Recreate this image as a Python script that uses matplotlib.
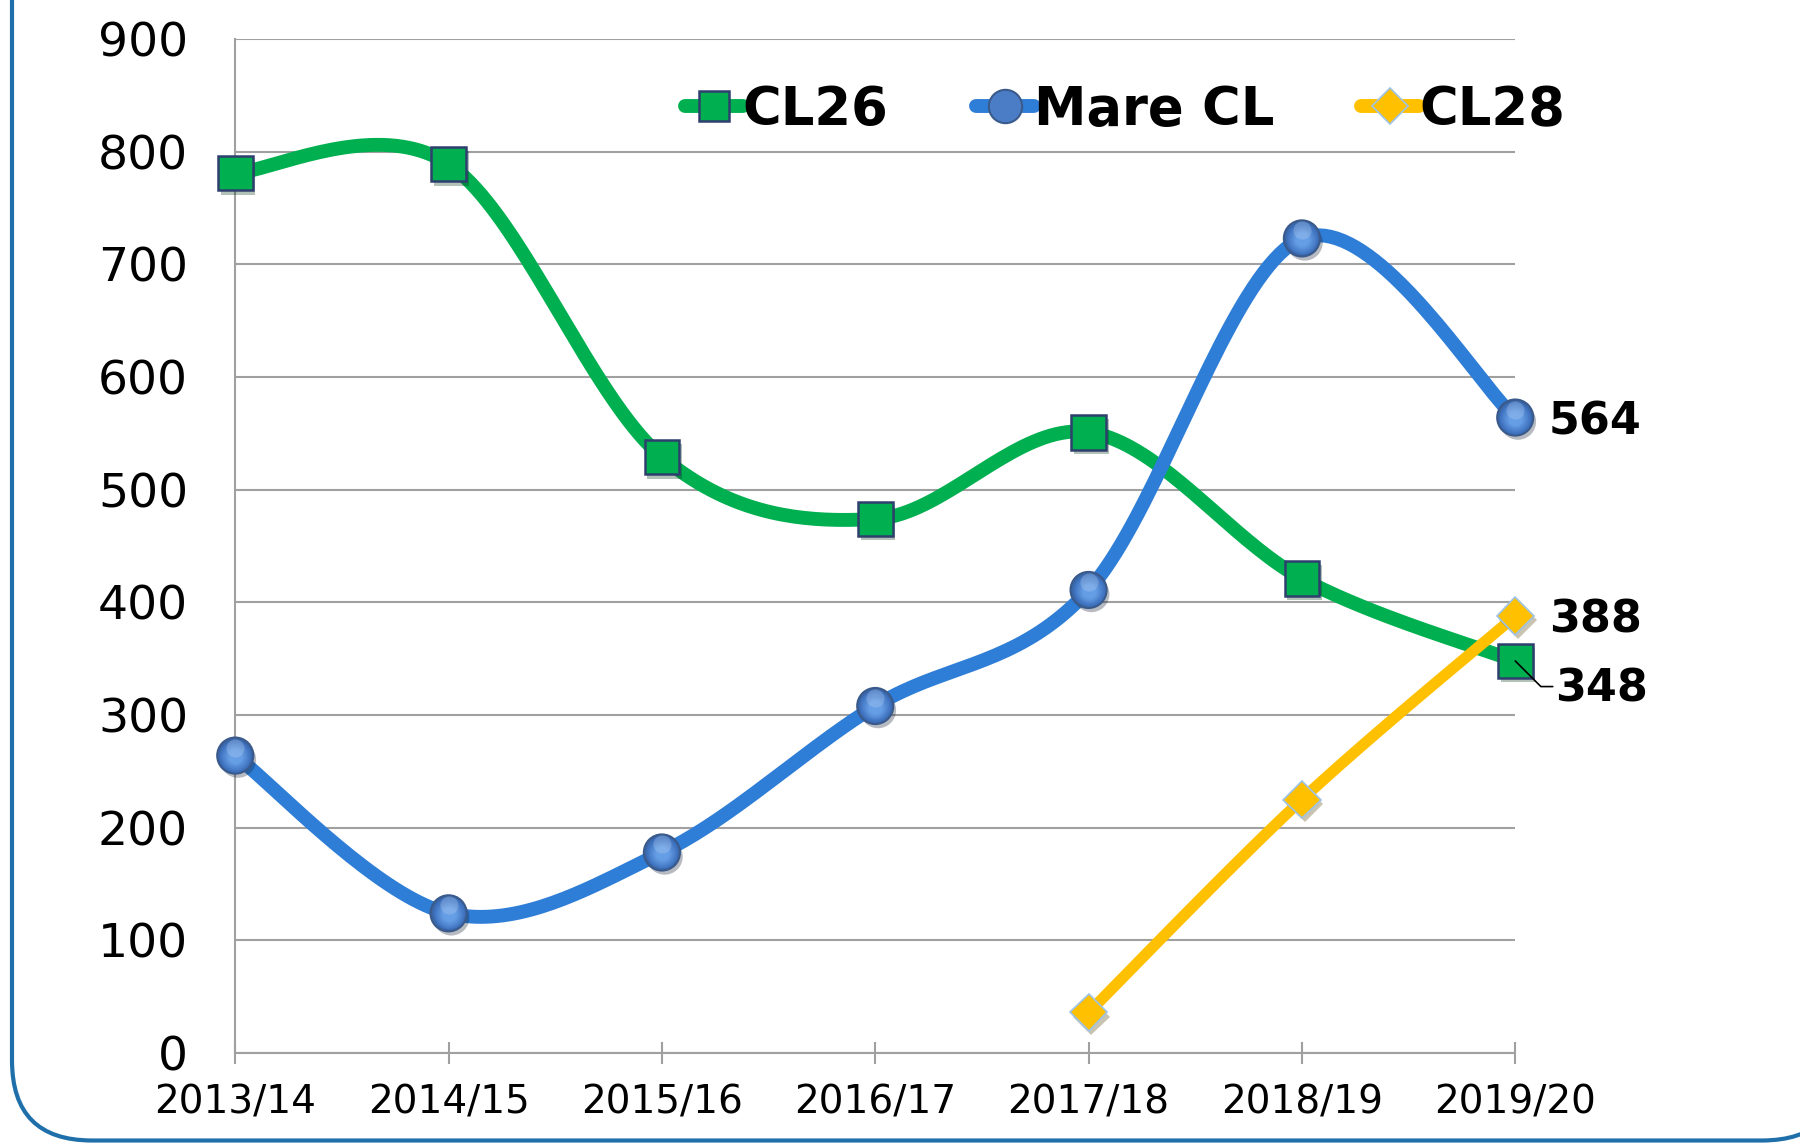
import matplotlib
matplotlib.use("Agg")
import matplotlib.pyplot as plt
import matplotlib.patheffects as pe
import matplotlib.transforms as mtransforms
from matplotlib.lines import Line2D
from matplotlib.patches import FancyBboxPatch
import numpy as np

# ------------------------------------------------------------
# Data
# ------------------------------------------------------------
seasons = ["2013/14", "2014/15", "2015/16", "2016/17", "2017/18", "2018/19", "2019/20"]
cl26 = [781, 789, 529, 474, 551, 421, 348]
mare_cl = [264, 124, 178, 308, 411, 723, 564]
cl28_seasons = ["2017/18", "2018/19", "2019/20"]
cl28 = [36, 225, 388]

GREEN = "#00B050"
BLUE = "#2E7DD6"
YELLOW = "#FFC000"


def smooth(xs, ys, n=40):
    """Bezier smoothing through every point (spreadsheet-style smoothed line)."""
    pts = np.column_stack([xs, ys]).astype(float)
    ext = np.vstack([pts[0], pts, pts[-1]])
    t = np.linspace(0, 1, n)[:, None]
    out = []
    for i in range(len(pts) - 1):
        p0, p1, p2, p3 = ext[i], ext[i + 1], ext[i + 2], ext[i + 3]
        c1 = p1 + (p2 - p0) / 6
        c2 = p2 - (p3 - p1) / 6
        seg = ((1 - t) ** 3) * p1 + 3 * (1 - t) ** 2 * t * c1 + 3 * (1 - t) * t ** 2 * c2 + t ** 3 * p2
        out.append(seg if i == 0 else seg[1:])
    return np.vstack(out)


fig = plt.figure(figsize=(18, 11.43), dpi=100)
ax = fig.add_axes([0.1307, 0.0787, 0.7111, 0.8872])

x = np.arange(len(seasons))
x28 = np.array([seasons.index(s) for s in cl28_seasons])

shadow = [pe.SimplePatchShadow(offset=(2, -3), alpha=0.3), pe.Normal()]

# CL26
c = smooth(x, cl26)
ax.plot(c[:, 0], c[:, 1], color=GREEN, lw=10, solid_capstyle="round", zorder=3)
ax.plot(x, cl26, ls="none", marker="s", ms=25, mfc=GREEN, mec="#2E3F6E", mew=1.8,
        zorder=4, path_effects=shadow, clip_on=False)

# Mare CL
c = smooth(x, mare_cl)
ax.plot(c[:, 0], c[:, 1], color=BLUE, lw=10, solid_capstyle="round", zorder=5)
ax.plot(x, mare_cl, ls="none", marker="o", ms=26, mfc="#3A67A8", mec="#3A5A8C", mew=1.5,
        zorder=6, path_effects=shadow, clip_on=False)
# sphere shading on the circles
n_layers = 10
for k in range(n_layers):
    f = k / (n_layers - 1)
    col = np.array([0.24, 0.44, 0.74]) * (1 - f) + np.array([0.40, 0.62, 0.90]) * f
    tr = mtransforms.offset_copy(ax.transData, fig=fig, x=0, y=-1 * f, units="dots")
    ax.plot(x, mare_cl, ls="none", marker="o", ms=23 - 13 * f, mfc=col, mec="none",
            transform=tr, zorder=6.1 + k * 0.01, clip_on=False)
# soft top highlight
tr = mtransforms.offset_copy(ax.transData, fig=fig, x=0, y=8, units="dots")
ax.plot(x, mare_cl, ls="none", marker="o", ms=13, mfc="#B9D2F2", mec="none", alpha=0.3,
        transform=tr, zorder=6.3, clip_on=False)

# CL28
c = smooth(x28, cl28)
ax.plot(c[:, 0], c[:, 1], color=YELLOW, lw=8, solid_capstyle="round", zorder=7)
ax.plot(x28, cl28, ls="none", marker="D", ms=19, mfc=YELLOW, mec="#9DC3E6", mew=1.2,
        zorder=8, path_effects=shadow, clip_on=False)

# Data labels on the last season
lab_kw = dict(fontsize=32, fontweight="bold", va="center", ha="left",
              textcoords="offset points", zorder=10)
ax.annotate(str(mare_cl[-1]), (x[-1], mare_cl[-1]), xytext=(24, -3), **lab_kw)
ax.annotate(str(cl28[-1]), (x28[-1], cl28[-1]), xytext=(24, -3), **lab_kw)
ax.annotate(str(cl26[-1]), (x[-1], cl26[-1]), xytext=(29, -20),
            arrowprops=dict(arrowstyle="-", color="black", lw=1.2, shrinkA=0, shrinkB=0,
                            relpos=(0, 0.55),
                            connectionstyle="angle,angleA=0,angleB=-45,rad=0"),
            **lab_kw)

# Axes
ax.set_xlim(0, len(seasons) - 1)
ax.set_ylim(0, 900)
ax.set_yticks(range(0, 901, 100))
ax.set_xticks(x)
ax.set_xticklabels(seasons)
ax.tick_params(axis="y", length=0, labelsize=34, pad=34)
ax.tick_params(axis="x", direction="inout", length=16, width=1.5, color="#A0A0A0",
               labelsize=28, pad=14)
ax.grid(axis="y", color="#A0A0A0", lw=1.5)
ax.set_axisbelow(True)
for side in ("top", "right"):
    ax.spines[side].set_visible(False)
for side in ("left", "bottom"):
    ax.spines[side].set_color("#A0A0A0")
    ax.spines[side].set_linewidth(1.5)

# Legend
handles = [
    Line2D([], [], color=GREEN, lw=10, solid_capstyle="round", marker="s", ms=22,
           mfc=GREEN, mec="#2E3F6E", mew=1.8),
    Line2D([], [], color=BLUE, lw=10, solid_capstyle="round", marker="o", ms=24,
           mfc="#4A7DC6", mec="#3A5A8C", mew=1.5),
    Line2D([], [], color=YELLOW, lw=10, solid_capstyle="round", marker="D", ms=18,
           mfc=YELLOW, mec="#9DC3E6", mew=1.2),
]
ax.legend(handles, ["CL26", "Mare CL", "CL28"], ncol=3, frameon=False,
          loc="center", bbox_to_anchor=(0.695, 0.930),
          prop=dict(size=38, weight="bold"), handlelength=1.1,
          handletextpad=0.0, columnspacing=1.65)

# Rounded frame around the chart
frame = FancyBboxPatch((12, 2.5), 1830, 1400, boxstyle="round,pad=0,rounding_size=80",
                       transform=mtransforms.IdentityTransform(), fill=False,
                       ec="#1F70AA", lw=3, clip_on=False)
fig.add_artist(frame)

fig.savefig("out.png", dpi=100)
